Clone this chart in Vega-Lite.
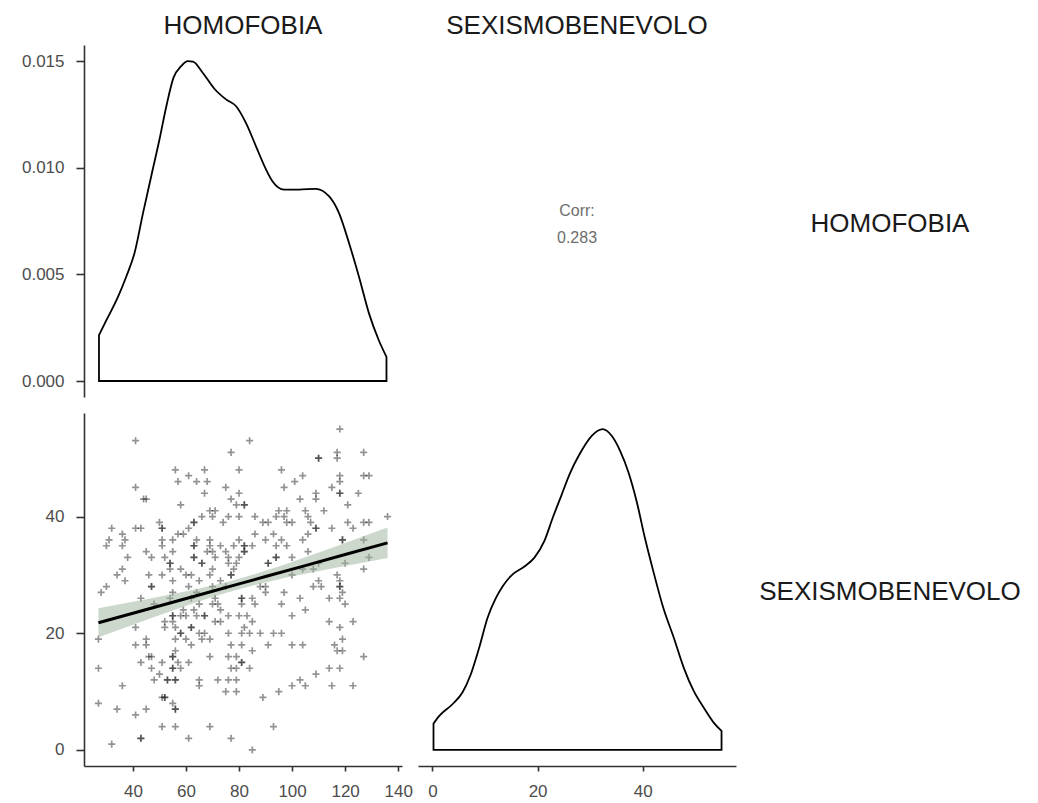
{
  "$schema": "https://vega.github.io/schema/vega-lite/v6.json",
  "background": "white",
  "padding": {"left": 21, "top": 13, "right": 5, "bottom": 0},
  "config": {
    "view": {"stroke": null},
    "font": "Liberation Sans",
    "axis": {"domainColor": "#333333", "domainWidth": 1.6, "tickColor": "#333333", "tickWidth": 1.6, "labelColor": "#4d4d4d", "labelFont": "Liberation Sans", "labelFontSize": 17, "grid": false, "labelFlush": false},
    "axisX": {"tickSize": 5, "labelPadding": 12},
    "axisY": {"tickSize": 8, "labelPadding": 12},
    "title": {"fontSize": 26, "fontWeight": "normal", "color": "#1a1a1a", "offset": 6, "font": "Liberation Sans"}
  },
  "datasets": {
    "dens_h": [
      {"x": 27.2, "d": 0.00215}, {"x": 30, "d": 0.00285}, {"x": 34.4, "d": 0.00395}, {"x": 37.5, "d": 0.0049},
      {"x": 40.6, "d": 0.006}, {"x": 43.8, "d": 0.00787}, {"x": 46.9, "d": 0.0096}, {"x": 50, "d": 0.01132},
      {"x": 52.6, "d": 0.01288}, {"x": 55.3, "d": 0.01422}, {"x": 58.2, "d": 0.01476}, {"x": 60.7, "d": 0.01499},
      {"x": 62.6, "d": 0.01497}, {"x": 66.3, "d": 0.01445}, {"x": 70.7, "d": 0.0137}, {"x": 75.1, "d": 0.0132},
      {"x": 78.9, "d": 0.01288}, {"x": 82.6, "d": 0.0121}, {"x": 86.4, "d": 0.011}, {"x": 90.2, "d": 0.00991},
      {"x": 92.6, "d": 0.00936}, {"x": 97, "d": 0.00897}, {"x": 102.6, "d": 0.00897}, {"x": 108.9, "d": 0.00901},
      {"x": 114, "d": 0.00865}, {"x": 117.7, "d": 0.00787}, {"x": 121.5, "d": 0.00646}, {"x": 125.2, "d": 0.0049},
      {"x": 129, "d": 0.00317}, {"x": 132.7, "d": 0.00191}, {"x": 135.6, "d": 0.00113}
    ],
    "dens_s": [
      {"x": 0.2, "d": 0.00277}, {"x": 1.3, "d": 0.00358}, {"x": 3.8, "d": 0.00481}, {"x": 5.7, "d": 0.00604},
      {"x": 7.3, "d": 0.00797}, {"x": 8.9, "d": 0.01078}, {"x": 10.5, "d": 0.01394}, {"x": 12.1, "d": 0.01604},
      {"x": 13.4, "d": 0.01727}, {"x": 15.3, "d": 0.01851}, {"x": 17.5, "d": 0.01931}, {"x": 19.4, "d": 0.02025},
      {"x": 21.3, "d": 0.02201}, {"x": 22.9, "d": 0.02447}, {"x": 24.5, "d": 0.02675}, {"x": 26.1, "d": 0.02904},
      {"x": 28, "d": 0.03115}, {"x": 30.3, "d": 0.03307}, {"x": 32.4, "d": 0.03378}, {"x": 34.1, "d": 0.03307},
      {"x": 35.7, "d": 0.03149}, {"x": 37.3, "d": 0.02921}, {"x": 38.9, "d": 0.02605}, {"x": 40.4, "d": 0.02236},
      {"x": 42, "d": 0.01885}, {"x": 43.9, "d": 0.01499}, {"x": 45.9, "d": 0.01183}, {"x": 47.8, "d": 0.00867},
      {"x": 49.7, "d": 0.00621}, {"x": 51.6, "d": 0.00446}, {"x": 53.5, "d": 0.00288}, {"x": 55, "d": 0.002}
    ],
    "fit": [
      {"x": 27, "fit": 21.8, "lo": 19.3, "hi": 24.3},
      {"x": 40, "fit": 23.43, "lo": 21.45, "hi": 25.41},
      {"x": 55, "fit": 25.32, "lo": 23.9, "hi": 26.74},
      {"x": 70, "fit": 27.2, "lo": 26.2, "hi": 28.2},
      {"x": 80, "fit": 28.46, "lo": 27.56, "hi": 29.36},
      {"x": 90, "fit": 29.72, "lo": 28.72, "hi": 30.72},
      {"x": 105, "fit": 31.6, "lo": 30.18, "hi": 33.02},
      {"x": 120, "fit": 33.49, "lo": 31.51, "hi": 35.47},
      {"x": 136, "fit": 35.5, "lo": 32.88, "hi": 38.12}
    ],
    "scatter": [
      {"h":118,"s":55},{"h":41,"s":53},{"h":84,"s":53},{"h":77,"s":51},{"h":117,"s":51},{"h":117,"s":50},{"h":127,"s":51},{"h":110,"s":50},{"h":110,"s":50},
      {"h":56,"s":48},{"h":67,"s":48},{"h":80,"s":48},{"h":96,"s":48},
      {"h":61,"s":47},{"h":104,"s":47},{"h":118,"s":47},{"h":127,"s":47},{"h":129,"s":47},
      {"h":57,"s":46},{"h":64,"s":46},{"h":68,"s":46},{"h":101,"s":46},{"h":118,"s":46},
      {"h":41,"s":45},{"h":75,"s":45},{"h":97,"s":45},{"h":115,"s":45},
      {"h":67,"s":44},{"h":80,"s":44},{"h":109,"s":44},{"h":118,"s":44},{"h":118,"s":44},{"h":125,"s":44},
      {"h":44,"s":43},{"h":45,"s":43},{"h":77,"s":43},{"h":103,"s":43},{"h":109,"s":43},
      {"h":58,"s":42},{"h":79,"s":42},{"h":82,"s":42},{"h":82,"s":42},{"h":121,"s":42},
      {"h":69,"s":41},{"h":71,"s":41},{"h":95,"s":41},{"h":98,"s":41},{"h":105,"s":41},{"h":112,"s":41},
      {"h":66,"s":40},{"h":70,"s":40},{"h":76,"s":40},{"h":80,"s":40},{"h":86,"s":40},{"h":94,"s":40},{"h":97,"s":40},{"h":106,"s":40},{"h":136,"s":40},
      {"h":50,"s":39},{"h":63,"s":39},{"h":63,"s":39},{"h":74,"s":39},{"h":89,"s":39},{"h":91,"s":39},{"h":98,"s":39},{"h":100,"s":39},{"h":107,"s":39},{"h":121,"s":39},{"h":127,"s":39},{"h":129,"s":39},
      {"h":32,"s":38},{"h":41,"s":38},{"h":43,"s":38},{"h":51,"s":38},{"h":51,"s":38},{"h":61,"s":38},{"h":109,"s":38},{"h":109,"s":38},{"h":115,"s":38},{"h":123,"s":38},
      {"h":36,"s":37},{"h":57,"s":37},{"h":59,"s":37},{"h":86,"s":37},{"h":93,"s":37},{"h":106,"s":37},
      {"h":31,"s":36},{"h":37,"s":36},{"h":51,"s":36},{"h":55,"s":36},{"h":64,"s":36},{"h":69,"s":36},{"h":80,"s":36},{"h":90,"s":36},{"h":96,"s":36},{"h":104,"s":36},{"h":119,"s":36},{"h":119,"s":36},{"h":127,"s":36},
      {"h":30,"s":35},{"h":36,"s":35},{"h":51,"s":35},{"h":63,"s":35},{"h":63,"s":35},{"h":69,"s":35},{"h":73,"s":35},{"h":78,"s":35},{"h":82,"s":35},{"h":82,"s":35},{"h":85,"s":35},{"h":94,"s":35},{"h":98,"s":35},
      {"h":45,"s":34},{"h":55,"s":34},{"h":68,"s":34},{"h":70,"s":34},{"h":75,"s":34},{"h":82,"s":34},{"h":82,"s":34},{"h":106,"s":34},
      {"h":38,"s":33},{"h":47,"s":33},{"h":52,"s":33},{"h":63,"s":33},{"h":63,"s":33},{"h":71,"s":33},{"h":76,"s":33},{"h":80,"s":33},{"h":94,"s":33},{"h":94,"s":33},{"h":100,"s":33},{"h":129,"s":33},
      {"h":54,"s":32},{"h":54,"s":32},{"h":66,"s":32},{"h":66,"s":32},{"h":76,"s":32},{"h":79,"s":32},{"h":91,"s":32},{"h":91,"s":32},{"h":110,"s":32},{"h":120,"s":32},
      {"h":36,"s":31},{"h":54,"s":31},{"h":58,"s":31},{"h":70,"s":31},{"h":78,"s":31},{"h":104,"s":31},{"h":108,"s":31},{"h":127,"s":31},
      {"h":34,"s":30},{"h":46,"s":30},{"h":51,"s":30},{"h":60,"s":30},{"h":62,"s":30},{"h":69,"s":30},{"h":77,"s":30},{"h":77,"s":30},{"h":100,"s":30},{"h":117,"s":30},
      {"h":37,"s":29},{"h":55,"s":29},{"h":65,"s":29},{"h":73,"s":29},{"h":110,"s":29},{"h":118,"s":29},
      {"h":30,"s":28},{"h":47,"s":28},{"h":47,"s":28},{"h":61,"s":28},{"h":70,"s":28},{"h":75,"s":28},{"h":88,"s":28},{"h":90,"s":28},{"h":108,"s":28},{"h":111,"s":28},{"h":118,"s":28},{"h":118,"s":28},
      {"h":28,"s":27},{"h":55,"s":27},{"h":64,"s":27},{"h":90,"s":27},{"h":97,"s":27},{"h":119,"s":27},
      {"h":43,"s":26},{"h":54,"s":26},{"h":62,"s":26},{"h":71,"s":26},{"h":81,"s":26},{"h":81,"s":26},{"h":85,"s":26},{"h":103,"s":26},{"h":114,"s":26},{"h":118,"s":26},
      {"h":48,"s":25},{"h":65,"s":25},{"h":70,"s":25},{"h":72,"s":25},{"h":81,"s":25},{"h":86,"s":25},{"h":96,"s":25},{"h":120,"s":25},
      {"h":59,"s":24},{"h":63,"s":24},{"h":73,"s":24},{"h":105,"s":24},
      {"h":55,"s":23},{"h":55,"s":23},{"h":58,"s":23},{"h":60,"s":23},{"h":64,"s":23},{"h":67,"s":23},{"h":67,"s":23},{"h":76,"s":23},{"h":80,"s":23},{"h":83,"s":23},{"h":100,"s":23},
      {"h":52,"s":22},{"h":55,"s":22},{"h":71,"s":22},{"h":73,"s":22},{"h":85,"s":22},{"h":114,"s":22},{"h":123,"s":22},
      {"h":41,"s":21},{"h":52,"s":21},{"h":56,"s":21},{"h":62,"s":21},{"h":62,"s":21},{"h":82,"s":21},{"h":118,"s":21},
      {"h":58,"s":20},{"h":58,"s":20},{"h":65,"s":20},{"h":67,"s":20},{"h":76,"s":20},{"h":81,"s":20},{"h":84,"s":20},{"h":88,"s":20},{"h":93,"s":20},{"h":96,"s":20},
      {"h":27,"s":19},{"h":45,"s":19},{"h":56,"s":19},{"h":60,"s":19},{"h":66,"s":19},{"h":69,"s":19},{"h":119,"s":19},
      {"h":41,"s":18},{"h":45,"s":18},{"h":62,"s":18},{"h":77,"s":18},{"h":81,"s":18},{"h":91,"s":18},{"h":100,"s":18},{"h":104,"s":18},{"h":116,"s":18},
      {"h":56,"s":17},{"h":85,"s":17},{"h":117,"s":17},{"h":119,"s":17},
      {"h":46,"s":16},{"h":47,"s":16},{"h":55,"s":16},{"h":55,"s":16},{"h":69,"s":16},{"h":76,"s":16},{"h":79,"s":16},{"h":127,"s":16},
      {"h":43,"s":15},{"h":51,"s":15},{"h":57,"s":15},{"h":61,"s":15},{"h":81,"s":15},{"h":81,"s":15},
      {"h":27,"s":14},{"h":47,"s":14},{"h":55,"s":14},{"h":55,"s":14},{"h":58,"s":14},{"h":77,"s":14},{"h":79,"s":14},{"h":84,"s":14},{"h":114,"s":14},{"h":118,"s":14},
      {"h":50,"s":13},{"h":109,"s":13},
      {"h":48,"s":12},{"h":53,"s":12},{"h":53,"s":12},{"h":56,"s":12},{"h":56,"s":12},{"h":65,"s":12},{"h":72,"s":12},{"h":76,"s":12},{"h":79,"s":12},{"h":103,"s":12},
      {"h":36,"s":11},{"h":65,"s":11},{"h":100,"s":11},{"h":105,"s":11},{"h":115,"s":11},{"h":123,"s":11},
      {"h":75,"s":10},{"h":79,"s":10},{"h":95,"s":10},
      {"h":51,"s":9},{"h":52,"s":9},{"h":52,"s":9},{"h":89,"s":9},
      {"h":27,"s":8},{"h":55,"s":8},
      {"h":34,"s":7},{"h":45,"s":7},{"h":56,"s":7},{"h":56,"s":7},
      {"h":41,"s":6},
      {"h":51,"s":4},{"h":56,"s":4},{"h":69,"s":4},{"h":93,"s":4},
      {"h":43,"s":2},{"h":43,"s":2},{"h":61,"s":2},{"h":77,"s":2},
      {"h":32,"s":1},
      {"h":85,"s":0}
    ]
  },
  "columns": 3,
  "spacing": {"row": 16, "column": 16},
  "bounds": "flush",
  "concat": [
    {
      "width": 318, "height": 352,
      "title": {"text": "HOMOFOBIA"},
      "data": {"name": "dens_h"},
      "mark": {"type": "area", "fill": "white", "stroke": "black", "strokeWidth": 1.8, "interpolate": "monotone"},
      "encoding": {
        "x": {"field": "x", "type": "quantitative", "scale": {"domain": [21.55, 141.45], "nice": false, "zero": false}, "axis": null},
        "y": {"field": "d", "type": "quantitative", "stack": null, "scale": {"domain": [-0.00075, 0.01575], "nice": false, "zero": false}, "axis": {"values": [0, 0.005, 0.01, 0.015], "format": ".3f", "title": null}},
        "y2": {"datum": 0}
      }
    },
    {
      "width": 318, "height": 352,
      "title": {"text": "SEXISMOBENEVOLO"},
      "data": {"values": [{"label": "Corr:\n0.283"}]},
      "mark": {"type": "text", "lineBreak": "\n", "fontSize": 16, "lineHeight": 27, "color": "#6e6e6e", "baseline": "middle", "align": "center", "dy": -10, "font": "Liberation Sans"},
      "encoding": {"text": {"field": "label", "type": "nominal"}}
    },
    {
      "width": 276, "height": 352,
      "data": {"values": [{"label": "HOMOFOBIA"}]},
      "mark": {"type": "text", "fontSize": 26, "color": "#1a1a1a", "baseline": "middle", "align": "center", "dy": 3, "font": "Liberation Sans"},
      "encoding": {"text": {"field": "label", "type": "nominal"}}
    },
    {
      "width": 318, "height": 353,
      "layer": [
        {
          "data": {"name": "scatter"},
          "mark": {"type": "point", "shape": "M-1,0L1,0M0,-1L0,1", "size": 50, "strokeWidth": 1.7, "color": "black", "opacity": 0.42, "filled": false},
          "encoding": {
            "x": {"field": "h", "type": "quantitative", "scale": {"domain": [21.55, 141.45], "nice": false, "zero": false}, "axis": {"values": [40, 60, 80, 100, 120, 140], "title": null}},
            "y": {"field": "s", "type": "quantitative", "scale": {"domain": [-2.75, 57.75], "nice": false, "zero": false}, "axis": {"values": [0, 20, 40], "title": null}}
          }
        },
        {
          "data": {"name": "fit"},
          "mark": {"type": "area", "color": "#99b199", "opacity": 0.5, "interpolate": "monotone"},
          "encoding": {
            "x": {"field": "x", "type": "quantitative"},
            "y": {"field": "lo", "type": "quantitative"},
            "y2": {"field": "hi"}
          }
        },
        {
          "data": {"name": "fit"},
          "mark": {"type": "line", "color": "black", "strokeWidth": 3},
          "encoding": {
            "x": {"field": "x", "type": "quantitative"},
            "y": {"field": "fit", "type": "quantitative"}
          }
        }
      ]
    },
    {
      "width": 318, "height": 353,
      "data": {"name": "dens_s"},
      "mark": {"type": "area", "fill": "white", "stroke": "black", "strokeWidth": 1.8, "interpolate": "monotone"},
      "encoding": {
        "x": {"field": "x", "type": "quantitative", "scale": {"domain": [-2.75, 57.75], "nice": false, "zero": false}, "axis": {"values": [0, 20, 40], "title": null}},
        "y": {"field": "d", "type": "quantitative", "stack": null, "scale": {"domain": [-0.00169, 0.03547], "nice": false, "zero": false}, "axis": null},
        "y2": {"datum": 0}
      }
    },
    {
      "width": 276, "height": 353,
      "data": {"values": [{"label": "SEXISMOBENEVOLO"}]},
      "mark": {"type": "text", "fontSize": 26, "color": "#1a1a1a", "baseline": "middle", "align": "center", "dy": 2, "font": "Liberation Sans"},
      "encoding": {"text": {"field": "label", "type": "nominal"}}
    }
  ]
}
